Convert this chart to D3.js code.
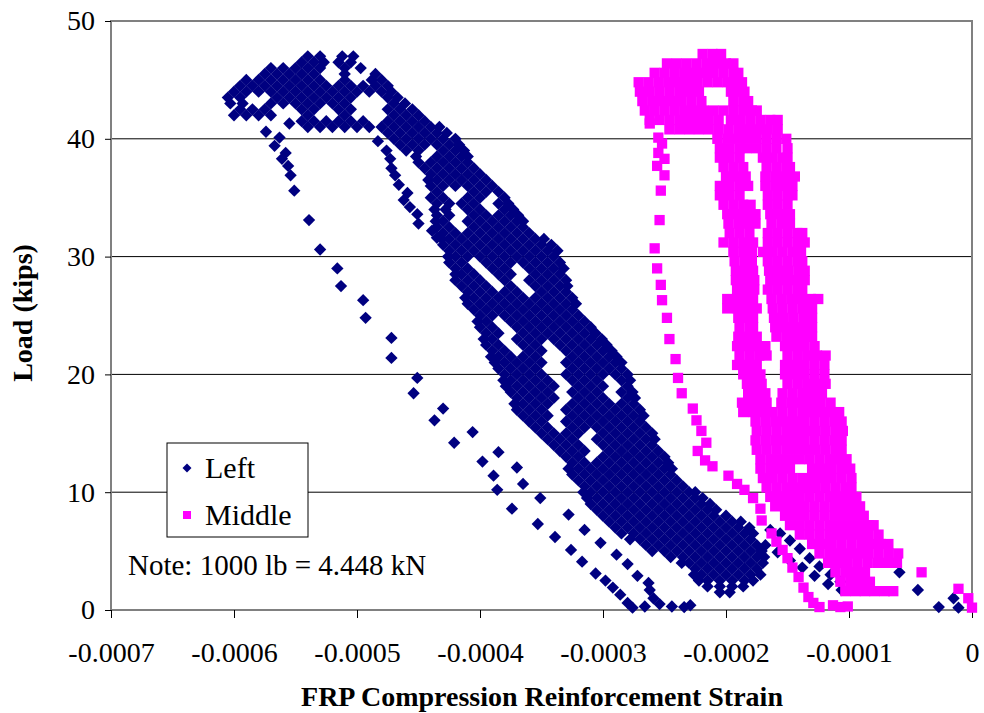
<!DOCTYPE html>
<html>
<head>
<meta charset="utf-8">
<script src="https://cdn.jsdelivr.net/npm/d3@7"></script>
<style>
body { margin: 0; background: #fff; }
text { font-family: "Liberation Serif", "Times New Roman", serif; fill: #000; }
</style>
</head>
<body>
<script>
// axis ticks
var xTicks = [-0.0007, -0.0006, -0.0005, -0.0004, -0.0003, -0.0002, -0.0001, 0];
var xTickLabels = ["-0.0007", "-0.0006", "-0.0005", "-0.0004", "-0.0003", "-0.0002", "-0.0001", "0"];
var yTicks = [0, 10, 20, 30, 40, 50];
var seriesNames = ["Left", "Middle"];

// Left gauge, dense part read row by row: [load (kips), [strain (microstrain), ...]]
var leftRows = [
  [47.0, [-540, -530, -512, -503]],
  [46.5, [-545, -535, -527, -515, -505]],
  [46.0, [-570, -560, -550, -540, -530, -510, -497]],
  [45.5, [-575, -565, -555, -545, -535, -510, -485]],
  [45.0, [-590, -580, -570, -560, -550, -540, -530, -510, -488, -480]],
  [44.5, [-595, -585, -575, -565, -555, -545, -535, -525, -515, -505, -495, -485, -475]],
  [44.0, [-600, -590, -580, -570, -560, -550, -540, -530, -520, -510, -500, -490, -480, -472]],
  [43.5, [-605, -595, -565, -555, -545, -535, -525, -515, -505, -475, -467]],
  [43.0, [-603, -593, -570, -560, -550, -540, -530, -520, -510, -470, -461]],
  [42.5, [-595, -585, -575, -545, -535, -515, -505, -475, -465, -455]],
  [42.0, [-600, -590, -580, -570, -540, -510, -470, -460, -450]],
  [41.5, [-545, -535, -525, -515, -505, -495, -475, -465, -455, -445]],
  [41.0, [-540, -530, -520, -510, -500, -490, -480, -470, -460, -450, -440, -433]],
  [40.5, [-475, -465, -455, -445, -435, -427]],
  [40.0, [-470, -460, -450, -440, -430, -420]],
  [39.5, [-465, -455, -445, -435, -425, -417]],
  [39.0, [-460, -450, -430, -420, -413]],
  [38.5, [-452, -435, -425, -415, -410]],
  [38.0, [-450, -440, -430, -420, -410]],
  [37.5, [-445, -435, -425, -415, -405]],
  [37.0, [-440, -430, -420, -410, -400]],
  [36.5, [-442, -435, -425, -415, -405, -395]],
  [36.0, [-440, -430, -420, -410, -400, -390]],
  [35.5, [-435, -405, -395, -385]],
  [35.0, [-440, -430, -410, -400, -380]],
  [34.5, [-435, -425, -415, -405, -385, -377]],
  [34.0, [-437, -428, -410, -400, -380, -373]],
  [33.5, [-435, -425, -405, -395, -385, -375, -369]],
  [33.0, [-436, -430, -410, -400, -390, -380, -370, -365]],
  [32.5, [-435, -425, -405, -395, -385, -375, -365]],
  [32.0, [-430, -420, -410, -400, -390, -380, -370, -360]],
  [31.5, [-431, -425, -415, -405, -395, -385, -375, -365, -355, -348]],
  [31.0, [-430, -420, -410, -400, -390, -380, -370, -360, -350, -342]],
  [30.5, [-425, -415, -405, -395, -385, -375, -365, -355, -345, -337]],
  [30.0, [-426, -420, -410, -400, -390, -380, -370, -360, -350, -340]],
  [29.5, [-425, -415, -395, -385, -375, -365, -355, -345, -335]],
  [29.0, [-420, -410, -390, -380, -360, -350, -340, -332]],
  [28.5, [-420, -415, -405, -385, -375, -355, -345, -335]],
  [28.0, [-420, -410, -400, -380, -360, -350, -340, -330]],
  [27.5, [-415, -405, -395, -375, -355, -345, -335, -329]],
  [27.0, [-410, -400, -390, -380, -370, -350, -340, -330]],
  [26.5, [-412, -405, -395, -385, -375, -365, -355, -345, -335, -325]],
  [26.0, [-410, -400, -390, -380, -370, -360, -350, -340, -330, -322]],
  [25.5, [-405, -395, -385, -375, -365, -355, -345, -335, -325]],
  [25.0, [-400, -390, -380, -370, -360, -350, -340, -330, -320]],
  [24.5, [-402, -395, -375, -365, -355, -345, -335, -325, -315]],
  [24.0, [-400, -390, -370, -360, -350, -340, -330, -320, -310]],
  [23.5, [-395, -385, -365, -355, -345, -335, -325, -315, -306]],
  [23.0, [-397, -390, -370, -360, -350, -340, -330, -320, -310, -301]],
  [22.5, [-395, -385, -365, -355, -335, -325, -315, -305, -297]],
  [22.0, [-390, -380, -360, -350, -330, -320, -310, -300, -293]],
  [21.5, [-391, -385, -375, -365, -355, -325, -315, -305, -295, -289]],
  [21.0, [-388, -380, -370, -360, -350, -330, -320, -310, -300, -290, -285]],
  [20.5, [-385, -375, -365, -355, -325, -315, -305, -295, -285]],
  [20.0, [-380, -370, -360, -350, -330, -320, -310, -300, -290, -280]],
  [19.5, [-381, -375, -365, -355, -345, -325, -315, -305, -285, -278]],
  [19.0, [-379, -370, -360, -350, -340, -320, -310, -300, -280]],
  [18.5, [-375, -365, -355, -345, -325, -315, -305, -285, -276]],
  [18.0, [-370, -360, -350, -340, -320, -310, -300, -280, -274]],
  [17.5, [-372, -365, -355, -345, -325, -315, -305, -295, -285, -275]],
  [17.0, [-370, -360, -350, -330, -320, -310, -300, -290, -280, -270]],
  [16.5, [-365, -355, -345, -325, -315, -305, -295, -285, -275, -267]],
  [16.0, [-360, -350, -330, -320, -310, -300, -290, -280, -270]],
  [15.5, [-355, -345, -325, -315, -305, -295, -285, -275, -265]],
  [15.0, [-350, -340, -330, -320, -300, -290, -280, -270, -260]],
  [14.5, [-345, -335, -325, -305, -295, -285, -275, -265, -258]],
  [14.0, [-340, -330, -320, -300, -290, -280, -270, -260]],
  [13.5, [-335, -325, -315, -295, -285, -275, -265, -255]],
  [13.0, [-330, -320, -300, -290, -280, -270, -260, -250]],
  [12.5, [-325, -315, -305, -295, -285, -275, -265, -255, -247]],
  [12.0, [-328, -320, -310, -300, -290, -280, -270, -260, -250, -244]],
  [11.5, [-325, -315, -305, -295, -285, -275, -265, -255, -245]],
  [11.0, [-320, -310, -300, -290, -280, -270, -260, -250, -240]],
  [10.5, [-315, -305, -295, -285, -275, -265, -255, -245, -235]],
  [10.0, [-316, -310, -300, -290, -280, -270, -260, -250, -240, -230, -225]],
  [9.5, [-313, -305, -295, -285, -275, -265, -255, -245, -235, -225, -219]],
  [9.0, [-310, -300, -290, -280, -270, -260, -250, -240, -230, -220, -213]],
  [8.5, [-305, -295, -285, -275, -265, -255, -245, -235, -225, -215, -208]],
  [8.0, [-300, -290, -280, -270, -260, -250, -240, -230, -220, -210, -200]],
  [7.5, [-295, -285, -275, -265, -255, -245, -235, -225, -215, -205, -195, -188]],
  [7.0, [-290, -280, -270, -260, -250, -240, -230, -220, -210, -200, -190, -181]],
  [6.5, [-285, -275, -265, -255, -245, -235, -225, -215, -205, -195, -185, -178]],
  [6.0, [-278, -270, -260, -250, -240, -230, -220, -210, -200, -190, -180]],
  [5.5, [-265, -255, -245, -235, -225, -215, -205, -195, -185, -175]],
  [5.0, [-260, -250, -240, -230, -220, -210, -200, -190, -180, -171]],
  [4.5, [-245, -235, -225, -215, -205, -195, -185, -175, -169]],
  [4.0, [-236, -230, -220, -210, -200, -190, -180, -170]],
  [3.5, [-225, -215, -205, -195, -185, -175]],
  [3.0, [-226, -220, -210, -200, -190, -180, -172]],
  [2.5, [-222, -215, -205, -195, -185, -178]],
  [2.0, [-215, -205, -195, -186]],
  [1.5, [-205, -197]]
];

// Left gauge, isolated points: [strain (microstrain), load (kips)]
var leftPoints = [
  [-574, 40.6], [-555, 41.3], [-563, 40.1], [-567, 39.4], [-558, 38.8], [-561, 38.3],
  [-556, 37.7], [-554, 36.9], [-551, 35.6], [-539, 33.1], [-530, 30.6], [-516, 29.0],
  [-513, 27.5], [-495, 26.3], [-493, 24.8], [-472, 23.1], [-472, 21.4], [-451, 19.7],
  [-454, 18.4], [-430, 17.1], [-437, 16.1], [-406, 15.1], [-421, 14.2], [-385, 13.4],
  [-398, 12.6], [-370, 12.1], [-389, 11.4], [-365, 10.7], [-386, 10.2], [-351, 9.5],
  [-374, 8.6], [-328, 8.1], [-353, 7.3], [-315, 6.8], [-339, 6.2], [-302, 5.7],
  [-326, 5.1], [-289, 4.7], [-317, 4.1], [-280, 3.9], [-306, 3.1], [-272, 2.9],
  [-298, 2.5], [-263, 2.3], [-292, 1.9], [-286, 1.3], [-262, 1.7], [-280, 0.6],
  [-259, 1.0], [-276, 0.2], [-266, 0.3], [-254, 0.5], [-244, 0.3], [-234, 0.25], [-229, 0.4],
  [-483, 39.8], [-476, 39.0], [-473, 38.3], [-472, 37.5], [-469, 36.9], [-466, 36.1],
  [-459, 35.4], [-462, 34.8], [-457, 34.2], [-451, 33.6], [-450, 32.8], [-439, 32.2], [-435, 31.6],
  [-164, 6.8], [-156, 6.5], [-148, 5.9], [-140, 5.2], [-132, 4.4], [-124, 3.7], [-115, 3.0],
  [-107, 2.4], [-99, 1.9], [-91, 1.7], [-83, 1.7], [-168, 5.5], [-158, 4.9], [-148, 4.2],
  [-138, 3.6], [-128, 2.9], [-117, 2.2], [-106, 1.7],
  [-59, 3.2], [-44, 1.7], [-27, 0.25], [-15, 1.0], [-11, 0.2]
];

// Middle gauge, dense part: [load (kips), [strain (microstrain), ...]]
var middleRows = [
  [47.2, [-219, -211, -204]],
  [46.4, [-248, -240, -232, -224, -216, -208, -200, -194]],
  [45.6, [-258, -250, -242, -234, -226, -218, -210, -202, -194, -190]],
  [44.8, [-271, -263, -255, -247, -239, -231, -223, -215, -207, -199, -191, -187]],
  [44.0, [-270, -262, -254, -246, -238, -230, -222, -196, -188, -185]],
  [43.2, [-268, -260, -252, -244, -236, -228, -220, -194, -186, -182]],
  [42.4, [-266, -258, -250, -242, -234, -226, -218, -210, -202, -194, -186, -179, -175]],
  [41.6, [-262, -254, -246, -238, -230, -222, -214, -206, -196, -188, -180, -172, -164, -158]],
  [40.8, [-246, -238, -230, -222, -214, -206, -198, -190, -182, -174, -166, -158]],
  [40.0, [-207, -199, -191, -183, -175, -167, -159, -151]],
  [39.2, [-205, -197, -189, -183, -175, -167, -159, -150]],
  [38.4, [-205, -197, -189, -170, -162, -154, -150]],
  [37.6, [-202, -194, -186, -167, -159, -151, -148]],
  [36.8, [-200, -192, -184, -168, -160, -152, -144]],
  [36.0, [-205, -197, -189, -182, -168, -160, -152, -146]],
  [35.2, [-205, -197, -189, -166, -158, -150, -146]],
  [34.4, [-202, -194, -186, -180, -166, -158, -150]],
  [33.6, [-199, -191, -183, -176, -164, -156, -148]],
  [32.8, [-198, -190, -182, -176, -163, -155, -148]],
  [32.0, [-197, -189, -181, -166, -158, -150, -142, -138]],
  [31.2, [-202, -194, -186, -178, -166, -158, -150, -142, -136]],
  [30.4, [-194, -186, -179, -170, -162, -154, -146, -139]],
  [29.6, [-193, -185, -179, -166, -158, -150, -142, -138]],
  [28.8, [-192, -184, -178, -165, -157, -149, -141, -136]],
  [28.0, [-192, -184, -177, -164, -156, -148, -140, -136]],
  [27.2, [-191, -183, -177, -166, -158, -150, -142, -138]],
  [26.4, [-199, -191, -183, -178, -163, -155, -147, -139, -131, -125]],
  [25.6, [-199, -191, -183, -175, -162, -154, -146, -138, -130]],
  [24.8, [-190, -182, -178, -161, -153, -145, -137, -130]],
  [24.0, [-189, -181, -178, -160, -152, -144, -136, -130]],
  [23.2, [-190, -182, -175, -159, -151, -143, -135, -130]],
  [22.4, [-191, -183, -175, -168, -152, -144, -136, -128]],
  [21.6, [-189, -181, -173, -167, -150, -142, -134, -126, -119]],
  [20.8, [-191, -183, -175, -152, -144, -136, -128, -120]],
  [20.0, [-186, -178, -172, -152, -144, -136, -128, -120]],
  [19.2, [-183, -175, -171, -150, -142, -134, -126, -119]],
  [18.4, [-182, -174, -168, -154, -146, -138, -130, -122]],
  [17.6, [-187, -179, -171, -167, -155, -147, -139, -131, -123, -115]],
  [16.8, [-186, -178, -170, -162, -154, -146, -138, -130, -122, -114, -108]],
  [16.0, [-176, -168, -160, -152, -144, -136, -128, -120, -112, -106]],
  [15.2, [-175, -167, -159, -151, -143, -135, -127, -119, -111, -105]],
  [14.4, [-176, -168, -160, -152, -144, -136, -128, -120, -112, -106]],
  [13.6, [-175, -167, -159, -151, -143, -135, -127, -119, -111, -106]],
  [12.8, [-172, -164, -156, -148, -140, -132, -124, -116, -108, -102]],
  [12.0, [-172, -164, -156, -148, -130, -122, -114, -106, -99]],
  [11.2, [-170, -162, -154, -146, -138, -130, -122, -114, -106, -98]],
  [10.4, [-167, -159, -151, -143, -135, -127, -119, -111, -103, -98]],
  [9.6, [-164, -156, -148, -140, -132, -124, -116, -108, -100, -94]],
  [8.8, [-160, -152, -144, -136, -128, -120, -112, -104, -96, -91]],
  [8.0, [-152, -144, -136, -128, -120, -112, -104, -96, -88]],
  [7.2, [-148, -140, -132, -124, -116, -108, -100, -92, -84, -80]],
  [6.4, [-140, -132, -124, -116, -108, -100, -92, -84, -76]],
  [5.6, [-130, -122, -114, -106, -98, -90, -82, -74, -68]],
  [4.8, [-124, -116, -108, -100, -92, -84, -76, -68, -60]],
  [4.0, [-117, -109, -101, -93, -85, -77, -69, -61]],
  [3.2, [-111, -103, -95, -87]],
  [2.4, [-107, -99, -91, -83]],
  [1.6, [-103, -95, -87, -79, -71, -64]]
];

// Middle gauge, isolated points: [strain (microstrain), load (kips)]
var middlePoints = [
  [-262, 41.3], [-255, 40.1], [-252, 39.6], [-255, 38.8], [-250, 38.3], [-256, 37.7],
  [-250, 36.9], [-253, 35.6], [-254, 33.1], [-258, 30.7], [-256, 29.0], [-253, 27.6],
  [-252, 26.3], [-248, 24.8], [-246, 23.0], [-241, 21.3], [-239, 19.7], [-236, 18.4],
  [-227, 17.1], [-224, 16.1], [-220, 15.2], [-216, 14.2], [-223, 13.5], [-217, 12.7],
  [-211, 12.2], [-198, 11.4], [-191, 10.7], [-185, 10.2], [-178, 9.5], [-172, 8.6],
  [-171, 7.6], [-163, 6.5], [-159, 5.8], [-154, 5.1], [-150, 4.4], [-146, 3.6],
  [-141, 2.8], [-137, 1.9], [-133, 1.1], [-129, 0.6], [-124, 0.25], [-113, 0.4],
  [-107, 0.25], [-101, 0.3],
  [-41, 3.2], [-11, 1.8], [-3, 1.0], [0, 0.2]
];

function toPoints(rows, singles) {
  var out = [];
  rows.forEach(function (r) {
    r[1].forEach(function (s) { out.push([s * 1e-6, r[0]]); });
  });
  singles.forEach(function (p) { out.push([p[0] * 1e-6, p[1]]); });
  return out;
}
var leftData = toPoints(leftRows, leftPoints);
var middleData = toPoints(middleRows, middlePoints);

var svg = d3.select("body").append("svg").attr("width", 984).attr("height", 713);

var x = d3.scaleLinear().domain([-0.0007, 0]).range([111, 972]);
var y = d3.scaleLinear().domain([0, 50]).range([610, 21]);

// gridlines
svg.append("g").selectAll("line")
  .data(yTicks.filter(function (d) { return d > 0 && d < 50; }))
  .enter().append("line")
  .attr("x1", x(-0.0007)).attr("x2", x(0))
  .attr("y1", function (d) { return y(d); }).attr("y2", function (d) { return y(d); })
  .attr("stroke", "#000").attr("stroke-width", 1);

// plot area border
svg.append("rect")
  .attr("x", x(-0.0007)).attr("y", y(50))
  .attr("width", x(0) - x(-0.0007)).attr("height", y(0) - y(50))
  .attr("fill", "none").attr("stroke", "#808080").attr("stroke-width", 2);

// axes
var xAxis = svg.append("g").attr("transform", "translate(0," + y(0) + ")")
  .call(d3.axisBottom(x).tickValues(xTicks).tickSize(8).tickPadding(24)
    .tickFormat(function (d, i) { return xTickLabels[i]; }));
var yAxis = svg.append("g").attr("transform", "translate(" + x(-0.0007) + ",0)")
  .call(d3.axisLeft(y).tickValues(yTicks).tickSize(6).tickPadding(10));
[xAxis, yAxis].forEach(function (g) {
  g.select(".domain").remove();
  g.selectAll(".tick line").attr("stroke", "#000");
  g.selectAll(".tick text").style("font-size", "28px").attr("fill", "#000")
    .style("font-family", "'Liberation Serif', 'Times New Roman', serif");
});

// series (markers a touch larger so the dense rows close up)
var diamond = d3.symbol().type(d3.symbolSquare).size(76)();
var square = d3.symbol().type(d3.symbolSquare).size(106)();

svg.append("g").selectAll("path")
  .data(leftData).enter().append("path")
  .attr("d", diamond)
  .attr("transform", function (d) { return "translate(" + x(d[0]) + "," + y(d[1]) + ") rotate(45)"; })
  .attr("fill", "#000080");

svg.append("g").selectAll("path")
  .data(middleData).enter().append("path")
  .attr("d", square)
  .attr("transform", function (d) { return "translate(" + x(d[0]) + "," + y(d[1]) + ")"; })
  .attr("fill", "#FF00FF");

// axis titles
svg.append("text")
  .attr("x", 542).attr("y", 706)
  .attr("text-anchor", "middle")
  .style("font-size", "28px").style("font-weight", "bold")
  .text("FRP Compression Reinforcement Strain");
svg.append("text")
  .attr("transform", "translate(32,313) rotate(-90)")
  .attr("text-anchor", "middle")
  .style("font-size", "28px").style("font-weight", "bold")
  .text("Load (kips)");

// legend
var legend = svg.append("g");
legend.append("rect")
  .attr("x", 167).attr("y", 443).attr("width", 141).attr("height", 94)
  .attr("fill", "#fff").attr("stroke", "#000").attr("stroke-width", 1);
legend.append("path")
  .attr("d", d3.symbol().type(d3.symbolSquare).size(40)())
  .attr("transform", "translate(187,468) rotate(45)")
  .attr("fill", "#000080");
legend.append("path")
  .attr("d", d3.symbol().type(d3.symbolSquare).size(64)())
  .attr("transform", "translate(187,515)")
  .attr("fill", "#FF00FF");
legend.selectAll("text.lbl")
  .data(seriesNames).enter().append("text")
  .attr("class", "lbl")
  .attr("x", 205).attr("y", function (d, i) { return 478 + i * 47; })
  .style("font-size", "30px")
  .text(function (d) { return d; });

// note
svg.append("text")
  .attr("x", 128).attr("y", 575)
  .style("font-size", "29px")
  .text("Note: 1000 lb = 4.448 kN");
</script>
</body>
</html>
